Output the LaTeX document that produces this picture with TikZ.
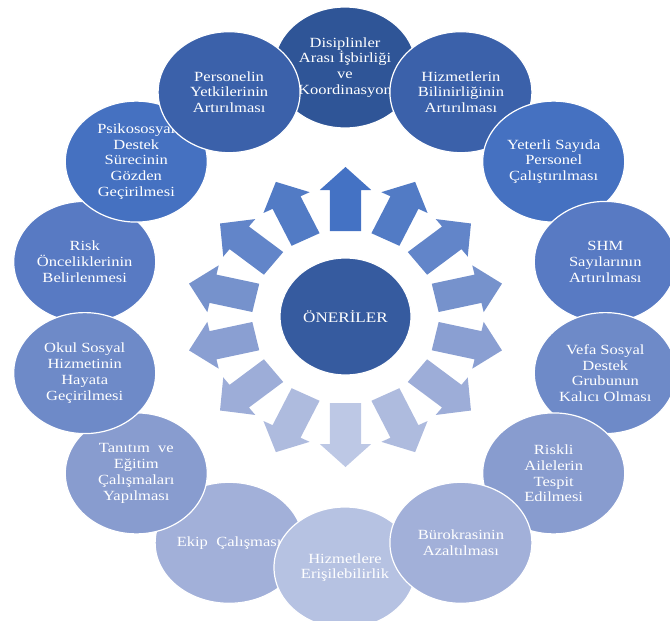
\documentclass[tikz,border=0pt]{standalone}
\usepackage{fontspec}
\setmainfont{Liberation Serif}[FakeStretch=1.18]
\usepackage{tikz}
\usetikzlibrary{shapes.geometric}
\usepackage{xcolor}

% ring colours, dark at the top, light at the bottom
\definecolor{ring0}{HTML}{2F5597}
\definecolor{ring1}{HTML}{3B61AA}
\definecolor{ring2}{HTML}{4571C1}
\definecolor{ring3}{HTML}{587AC3}
\definecolor{ring4}{HTML}{6E8AC8}
\definecolor{ring5}{HTML}{889CCF}
\definecolor{ring6}{HTML}{A2B0D9}
\definecolor{ring7}{HTML}{B6C2E2}
\definecolor{hubblue}{HTML}{365B9F}
% arrow colours
\definecolor{arr0}{HTML}{4472C4}
\definecolor{arr1}{HTML}{527BC5}
\definecolor{arr2}{HTML}{6285C9}
\definecolor{arr3}{HTML}{7692CC}
\definecolor{arr4}{HTML}{8A9FD2}
\definecolor{arr5}{HTML}{9DADD8}
\definecolor{arr6}{HTML}{AEBBDE}
\definecolor{arr7}{HTML}{BDC8E5}

\tikzset{
  bubble/.style={ellipse, draw=white, line width=1.2pt, minimum width=142pt,
    minimum height=121pt, inner sep=0pt, text=white, align=center,
    font=\fontsize{14}{15.7}\selectfont},
  hub/.style={bubble, minimum width=131pt, minimum height=117pt,
    font=\fontsize{14.5}{17}\selectfont},
}

\begin{document}
\begin{tikzpicture}[x=1pt, y=-1pt]
  \useasboundingbox (0,0) rectangle (670,621);

  % Arrows round the centre
  \foreach \k/\col in {0/arr0, 1/arr1, 2/arr2, 3/arr3, 4/arr4, 5/arr5, 6/arr6,
                       7/arr7, 8/arr6, 9/arr5, 10/arr4, 11/arr3, 12/arr2, 13/arr1} {
    \fill[\col, shift={(345.5,317)}, xscale=1.07, rotate=-\k*360/14]
      (-14.5,-86) -- (-14.5,-127) -- (-24,-127) -- (0,-150)
      -- (24,-127) -- (14.5,-127) -- (14.5,-86) -- cycle;
  }

  % Centre
  \node[hub, fill=hubblue] (oneriler) at (345.5,316.5) {ÖNERİLER};

  % Right half of the ring
  \node[bubble, fill=ring0] (disiplin) at (345,67.5) {Disiplinler\\Arası İşbirliği\\ve\\Koordinasyon};
  \node[bubble, fill=ring1] (bilinirlik) at (460.9,92.2) {Hizmetlerin\\Bilinirliğinin\\Artırılması};
  \node[bubble, fill=ring2] (personel) at (553.7,161.6) {Yeterli Sayıda\\Personel\\Çalıştırılması};
  \node[bubble, fill=ring3] (shm) at (605.3,261.9) {SHM\\Sayılarının\\Artırılması};
  \node[bubble, fill=ring4] (vefa) at (605.3,373.1) {Vefa Sosyal\\Destek\\Grubunun\\Kalıcı Olması};
  \node[bubble, fill=ring5] (riskli) at (553.7,473.4) {Riskli\\Ailelerin\\Tespit\\Edilmesi};

  % Bottom and left half
  \node[bubble, fill=ring6] (ekip) at (229.1,542.8) {Ekip~ Çalışması};
  \node[bubble, fill=ring7] (erisim) at (345,567.5) {Hizmetlere\\Erişilebilirlik};
  \node[bubble, fill=ring6] (burokrasi) at (460.9,542.8) {Bürokrasinin\\Azaltılması};
  \node[bubble, fill=ring5] (tanitim) at (136.3,473.4) {Tanıtım~ ve\\Eğitim\\Çalışmaları\\Yapılması};
  \node[bubble, fill=ring3] (oncelik) at (84.7,261.9) {Risk\\Önceliklerinin\\Belirlenmesi};
  \node[bubble, fill=ring4] (okul) at (84.7,373.1) {Okul Sosyal\\Hizmetinin\\Hayata\\Geçirilmesi};
  \node[bubble, fill=ring2] (psiko) at (136.3,161.6) {Psikososyal\\Destek\\Sürecinin\\Gözden\\Geçirilmesi};
  \node[bubble, fill=ring1] (yetki) at (229.1,92.2) {Personelin\\Yetkilerinin\\Artırılması};
\end{tikzpicture}
\end{document}
